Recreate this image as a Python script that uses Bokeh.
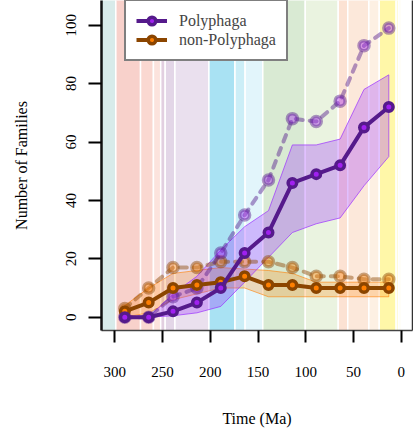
from bokeh.plotting import figure
from bokeh.models import Range1d, FixedTicker, Legend, LegendItem, LinearAxis
from bokeh.embed import file_html
from bokeh.resources import INLINE

# ---- data ----
ages = [289.5, 264.5, 239.0, 214.0, 189.0, 164.0, 139.0, 114.0, 89.0, 64.0, 39.0, 13.0]
poly_obs = [0, 0, 2, 5, 10, 22, 29, 46, 49, 52, 65, 72]
poly_est = [0, 0, 7, 10, 22, 35, 47, 68, 67, 74, 93, 99]
poly_lo = [0, 0, 0.5, 1.5, 3.7, 12, 20.5, 29, 32, 34, 45, 55]
poly_hi = [0, 0, 8, 14, 23, 31, 36.5, 59, 59, 61, 78, 83]
non_obs = [2, 5, 10, 11, 12, 14, 11, 11, 10, 10, 10, 10]
non_est = [3, 10, 17, 17, 19, 19, 19, 17, 14, 14, 13, 13]
non_lo = [0, 1.5, 6, 8, 10, 10, 7, 7, 7, 7, 7, 7]
non_hi = [4, 10, 15, 16, 17, 16.5, 16, 15, 12, 12, 12, 12]

band_start = [330, 298.9, 273.01, 259.51, 251.902, 247.2, 237.0, 201.4, 174.1, 163.5, 145.0, 100.5, 66.0, 56.0, 33.9, 23.03, 5.333, 2.58]
band_end = [298.9, 273.01, 259.51, 251.902, 247.2, 237.0, 201.4, 174.1, 163.5, 145.0, 100.5, 66.0, 56.0, 33.9, 23.03, 5.333, 2.58, 0.0]
band_color = ["#D8EBEA", "#F8D1CB", "#FAD8D1", "#FCE3DD", "#E2CFE0", "#E3D6E7", "#EAE0EE",
              "#A9E2F3", "#CCEEF7", "#E2F5FB", "#D9EAD3", "#EAF3E0",
              "#FCE2D3", "#FCE8DA", "#FDF0E3", "#FFF7A8", "#FFFBDA", "#FFFDF0"]

x_ticks = [300, 250, 200, 150, 100, 50, 0]
y_ticks = [0, 20, 40, 60, 80, 100]

FONT = "'Liberation Serif', 'Times New Roman', serif"
P_DARK, P_FILL = "#551A8B", "#A020F0"
N_DARK, N_FILL = "#8B4500", "#FF7F00"

p = figure(width=413, height=429, output_backend="svg", toolbar_location=None,
           x_range=Range1d(313.9, -11.8), y_range=Range1d(-4.55, 108.46),
           min_border_left=101, min_border_right=1, min_border_top=0, min_border_bottom=99)
p.grid.visible = False
p.outline_line_color = None
p.background_fill_color = "white"

# geological bands
p.quad(left=band_start, right=band_end, bottom=-20, top=200, fill_color=band_color,
       line_color="white", line_width=1.5)

# CI polygons
p.patch(x=ages + ages[::-1], y=non_hi + non_lo[::-1], fill_color=N_FILL, fill_alpha=0.25,
        line_color=N_FILL, line_alpha=0.6, line_width=1)
p.patch(x=ages + ages[::-1], y=poly_hi + poly_lo[::-1], fill_color="#9B30FF", fill_alpha=0.3,
        line_color="#9B30FF", line_alpha=0.7, line_width=1)

# estimated (dashed) series
p.line(ages, non_est, line_color=N_DARK, line_alpha=0.45, line_width=4, line_dash="7 7", line_cap="round")
p.scatter(ages, non_est, size=10, fill_color=N_FILL, fill_alpha=0.4, line_color=N_DARK,
          line_alpha=0.45, line_width=3.5)
p.line(ages, poly_est, line_color=P_DARK, line_alpha=0.45, line_width=4, line_dash="7 7", line_cap="round")
p.scatter(ages, poly_est, size=10, fill_color=P_FILL, fill_alpha=0.4, line_color=P_DARK,
          line_alpha=0.45, line_width=3.5)

# observed series
nl = p.line(ages, non_obs, line_color=N_DARK, line_width=4)
ns = p.scatter(ages, non_obs, size=8.5, fill_color=N_FILL, line_color=N_DARK, line_width=3.5)
pl = p.line(ages, poly_obs, line_color=P_DARK, line_width=4)
ps = p.scatter(ages, poly_obs, size=8.5, fill_color=P_FILL, line_color=P_DARK, line_width=3.5)

# axes
p.xaxis.ticker = FixedTicker(ticks=x_ticks)
p.yaxis.ticker = FixedTicker(ticks=y_ticks)
for ax in (p.xaxis, p.yaxis):
    ax.major_label_text_font = FONT
    ax.major_label_text_font_size = "15px"
    ax.major_label_text_color = "black"
    ax.minor_tick_line_color = None
    ax.major_tick_in = 0
    ax.major_tick_line_width = 2
    ax.major_tick_line_color = "black"
    ax.axis_label_text_font = FONT
    ax.axis_label_text_font_size = "16px"
    ax.axis_label_text_font_style = "normal"
    ax.axis_label_text_color = "black"
p.xaxis.major_tick_out = 12
p.yaxis.major_tick_out = 13
p.xaxis.axis_line_color = "#444444"
p.xaxis.axis_line_width = 1.5
p.yaxis.axis_line_color = "#111111"
p.yaxis.axis_line_width = 2.5
p.xaxis.major_label_standoff = 24
p.yaxis.major_label_standoff = 12
p.yaxis.major_label_orientation = "vertical"
p.xaxis.axis_label = "Time (Ma)"
p.xaxis.axis_label_standoff = 30
p.yaxis.axis_label = "Number of Families"
p.yaxis.axis_label_standoff = 34

# right frame edge
right_ax = LinearAxis(ticker=FixedTicker(ticks=[]), axis_line_color="#333333",
                      axis_line_width=1.5, major_label_text_alpha=0, major_tick_line_color=None,
                      minor_tick_line_color=None)
p.add_layout(right_ax, "right")

legend = Legend(items=[LegendItem(label="Polyphaga", renderers=[pl, ps]),
                       LegendItem(label="non-Polyphaga", renderers=[nl, ns])],
                location=(23, 269))
legend.label_text_font = FONT
legend.label_text_font_size = "16px"
legend.glyph_width = 31
legend.glyph_height = 19
legend.label_height = 19
legend.label_standoff = 12
legend.padding = 10
legend.spacing = 0
legend.margin = 0
legend.border_line_color = "black"
legend.border_line_width = 2
legend.background_fill_alpha = 1
p.add_layout(legend)

open("out.html", "w").write(file_html(p, INLINE))
